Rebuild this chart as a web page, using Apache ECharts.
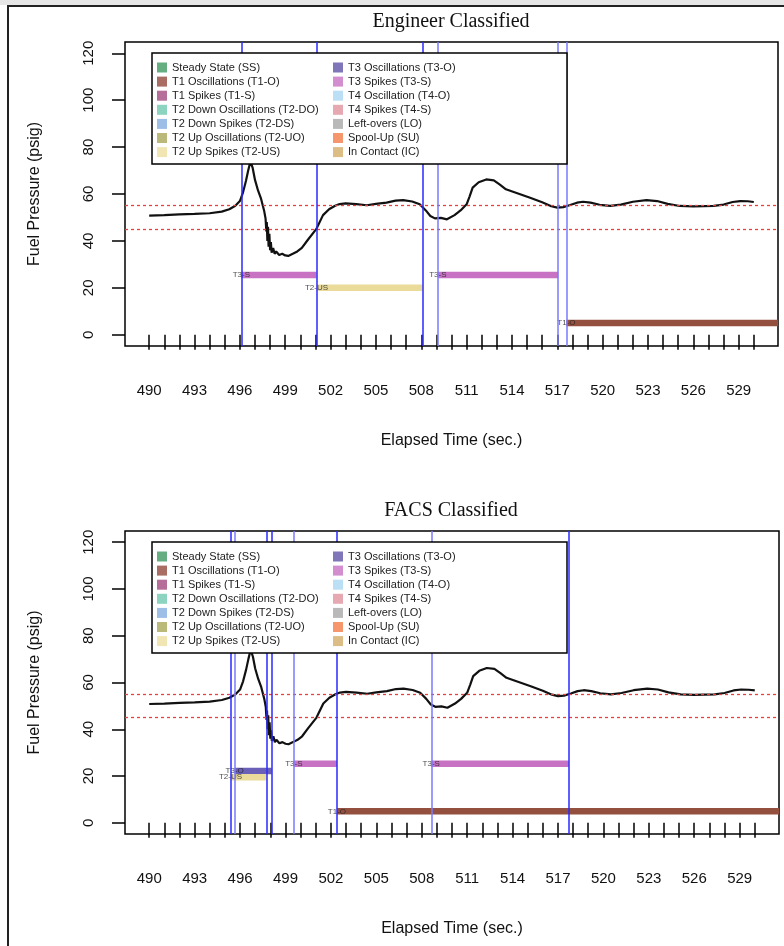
<!DOCTYPE html>
<html>
<head>
<meta charset="utf-8">
<script src="https://cdn.jsdelivr.net/npm/echarts@6/dist/echarts.min.js"></script>
<style>html,body{margin:0;padding:0;background:#fff}#c{width:784px;height:946px}</style>
</head>
<body>
<div id="c"></div>
<script>
// ---- data ----
var time = [490.0,491.0,492.0,493.0,494.0,494.8,495.3,495.7,496.0,496.2,496.4,496.55,496.7,496.85,497.0,497.2,497.4,497.6,497.7,497.75,497.78,497.82,497.86,497.9,497.95,498.0,498.05,498.1,498.2,498.3,498.4,498.6,498.8,499.0,499.2,499.5,499.8,500.1,500.5,501.05,501.5,501.9,502.3,502.6,503.0,503.7,504.4,505.0,505.7,506.3,506.8,507.4,507.9,508.3,508.6,508.9,509.3,509.7,510.2,510.6,511.0,511.2,511.4,511.8,512.3,512.8,513.2,513.6,514.4,515.2,516.0,516.6,517.0,517.4,517.85,518.3,518.7,519.2,519.8,520.5,521.2,522.0,522.9,523.6,524.3,525.1,526.0,527.35,528.0,528.6,529.1,529.6,530.0];
var pressure = [50.8,51.0,51.3,51.5,51.8,52.5,53.5,55.0,57.0,60.5,65.5,70.0,74.0,71.0,66.0,61.5,58.0,53.0,49.5,44.0,48.0,40.0,46.0,37.5,43.0,36.0,39.5,35.0,37.0,34.5,35.5,34.0,34.5,33.8,33.6,34.5,35.5,37.0,40.5,45.0,51.0,53.5,55.0,55.7,56.0,55.7,55.2,55.8,56.3,57.2,57.4,56.8,55.6,53.0,50.6,49.6,49.8,49.2,51.0,53.0,55.6,59.0,62.7,65.0,66.2,65.8,64.0,62.0,60.2,58.4,56.5,54.8,54.2,54.4,55.3,56.3,56.7,56.3,55.4,54.9,55.5,56.7,57.4,57.0,55.8,54.9,54.7,54.9,55.5,56.6,57.0,56.9,56.6];

var thresholds = [55, 45];

var xTicks = [490,491,492,493,494,495,496,497,498,499,500,501,502,503,504,505,506,507,508,509,510,511,512,513,514,515,516,517,518,519,520,521,522,523,524,525,526,527,528,529,530];
var xLabels = [490,493,496,499,502,505,508,511,514,517,520,523,526,529];
var yTicks = [0,20,40,60,80,100,120];

var legendCol1 = ['Steady State (SS)','T1 Oscillations (T1-O)','T1 Spikes (T1-S)','T2 Down Oscillations (T2-DO)','T2 Down Spikes (T2-DS)','T2 Up Oscillations (T2-UO)','T2 Up Spikes (T2-US)'];
var legendCol2 = ['T3 Oscillations (T3-O)','T3 Spikes (T3-S)','T4 Oscillation (T4-O)','T4 Spikes (T4-S)','Left-overs (LO)','Spool-Up (SU)','In Contact (IC)'];
var colorsCol1 = ['#3f9a62','#94483c','#a24a80','#6fc8b0','#84aee0','#aaa858','#eee0a0'];
var colorsCol2 = ['#5e54a8','#c872c4','#aad8f2','#e0949e','#a8a8a8','#f47c48','#d4ac68'];

var segColor = {'T3-S':'#c872c4','T2-US':'#eadb9a','T1-O':'#93503f','T3-O':'#6b60b8'};

// Engineer classified segments
var engSegLabel = ['T3-S','T2-US','T3-S','T1-O'];
var engSegStart = [496.1, 501.07, 509.1, 517.6];
var engSegEnd   = [501.07, 508.1, 517.06, 531.6];
var engSegLevel = [25.5, 20, 25.5, 5];
var engVLines = [496.1, 501.07, 508.1, 509.1, 517.06, 517.6];
var engVStrong = [1, 1, 1, 0, 0, 0];

// FACS classified segments
var facsSegLabel = ['T3-O','T2-US','T3-S','T1-O','T3-S'];
var facsSegStart = [495.64, 495.37, 499.55, 502.4, 508.63];
var facsSegEnd   = [498.09, 497.76, 502.4, 531.6, 517.72];
var facsSegLevel = [22.2, 19.5, 25.3, 4.9, 25.3];
var facsVLines = [495.37, 495.64, 497.76, 498.09, 499.55, 502.4, 508.63, 517.72];
var facsVStrong = [1, 0, 1, 1, 0, 1, 0, 1];

// ---- build ----
var chart = echarts.init(document.getElementById('c'), null, {renderer:'canvas'});
var FONT = 'Liberation Sans';
var lineData = time.map(function(t,i){return [t, pressure[i]];});

var grids = [
  {left:125, right:6, top:42, height:304, show:true, borderColor:'#000', borderWidth:1.5, backgroundColor:'#fff'},
  {left:125, right:5, top:531, height:303, show:true, borderColor:'#000', borderWidth:1.5, backgroundColor:'#fff'}
];

function xAx(i){
  return {gridIndex:i, type:'value', min:488.4, max:531.6, offset:5,
    axisLine:{show:false}, splitLine:{show:false},
    axisTick:{show:true, length:15, customValues:xTicks, lineStyle:{color:'#000', width:1.5}},
    axisLabel:{customValues:xLabels, margin:32, fontSize:15, color:'#111', fontFamily:FONT},
    name:'Elapsed Time (sec.)', nameLocation:'middle', nameGap:82,
    nameTextStyle:{fontSize:16, color:'#111', fontFamily:FONT}};
}
function yAx(i){
  return {gridIndex:i, type:'value', min:-4.8, max:124.8,
    axisLine:{show:false}, splitLine:{show:false},
    axisTick:{show:true, length:13, customValues:yTicks, lineStyle:{color:'#000', width:1.5}},
    axisLabel:{customValues:yTicks, rotate:90, margin:29, fontSize:15, color:'#111', fontFamily:FONT},
    name:'Fuel Pressure (psig)', nameLocation:'middle', nameGap:82,
    nameTextStyle:{fontSize:16, color:'#111', fontFamily:FONT}};
}

var series = [];
// legend dummy series
legendCol1.concat(legendCol2).forEach(function(n, k){
  var c = k < 7 ? colorsCol1[k] : colorsCol2[k-7];
  series.push({type:'scatter', name:n, data:[], xAxisIndex:0, yAxisIndex:0, itemStyle:{color:c}});
});

function addPanel(gi, labels, starts, ends, levels, vlines, strong){
  labels.forEach(function(lab, k){
    series.push({type:'line', name:'seg'+gi+'_'+k, xAxisIndex:gi, yAxisIndex:gi, z:2,
      symbol:'none', silent:true,
      lineStyle:{color:segColor[lab], width:6.5, cap:'butt'},
      data:[[starts[k], levels[k]],[ends[k], levels[k]]]});
  });
  series.push({type:'scatter', name:'lab'+gi, xAxisIndex:gi, yAxisIndex:gi, z:3, silent:true,
    symbolSize:0, itemStyle:{color:'transparent'},
    label:{show:true, formatter:'{b}', position:'inside', fontSize:8, color:'#222', fontFamily:FONT},
    data:labels.map(function(lab,k){return {name:lab, value:[starts[k], levels[k]]};})});
  var ml = thresholds.map(function(v){
    return {yAxis:v, lineStyle:{color:'#e8403c', type:[3,3], width:1.3, opacity:1}};
  }).concat(vlines.map(function(v,k){
    return {xAxis:v, lineStyle:{color: strong[k] ? '#2a2aff' : '#7a7aff', type:'solid', width:1.5}};
  }));
  series.push({type:'line', name:'pressure'+gi, xAxisIndex:gi, yAxisIndex:gi, z:3,
    symbol:'none', silent:true, data:lineData,
    lineStyle:{color:'#111', width:2.2},
    markLine:{silent:true, symbol:['none','none'], label:{show:false}, animation:false, data:ml}});
}
addPanel(0, engSegLabel, engSegStart, engSegEnd, engSegLevel, engVLines, engVStrong);
addPanel(1, facsSegLabel, facsSegStart, facsSegEnd, facsSegLevel, facsVLines, facsVStrong);

function legendCol(names, left, top){
  return {data:names, orient:'vertical', left:left, top:top, padding:0, itemGap:0.1, z:20,
    itemWidth:10, itemHeight:10, icon:'rect', selectedMode:false,
    textStyle:{fontSize:11, lineHeight:14, color:'#222', fontFamily:FONT}};
}
var legends = [
  legendCol(legendCol1, 157, 60.5), legendCol(legendCol2, 333, 60.5),
  legendCol(legendCol1, 157, 549.5), legendCol(legendCol2, 333, 549.5)
];

var graphics = [
  {type:'rect', shape:{x:0,y:0,width:784,height:5}, style:{fill:'#e6e6e6'}, silent:true, z:-1},
  {type:'rect', shape:{x:8,y:6,width:790,height:960}, style:{fill:null, stroke:'#222', lineWidth:2}, silent:true},
  {type:'rect', shape:{x:152,y:53,width:415,height:111}, style:{fill:'#fff', stroke:'#000', lineWidth:1.5}, z:10, silent:true},
  {type:'rect', shape:{x:152,y:542,width:415,height:111}, style:{fill:'#fff', stroke:'#000', lineWidth:1.5}, z:10, silent:true},
  {type:'text', x:451, y:22, style:{text:'Engineer Classified', fontFamily:'Liberation Serif', fontSize:20, fill:'#111', textAlign:'center', textVerticalAlign:'middle'}},
  {type:'text', x:451, y:511, style:{text:'FACS Classified', fontFamily:'Liberation Serif', fontSize:20, fill:'#111', textAlign:'center', textVerticalAlign:'middle'}}
];

chart.setOption({
  animation:false,
  backgroundColor:'#fff',
  grid:grids,
  xAxis:[xAx(0), xAx(1)],
  yAxis:[yAx(0), yAx(1)],
  legend:legends,
  graphic:{elements:graphics},
  series:series
});
</script>
</body>
</html>
